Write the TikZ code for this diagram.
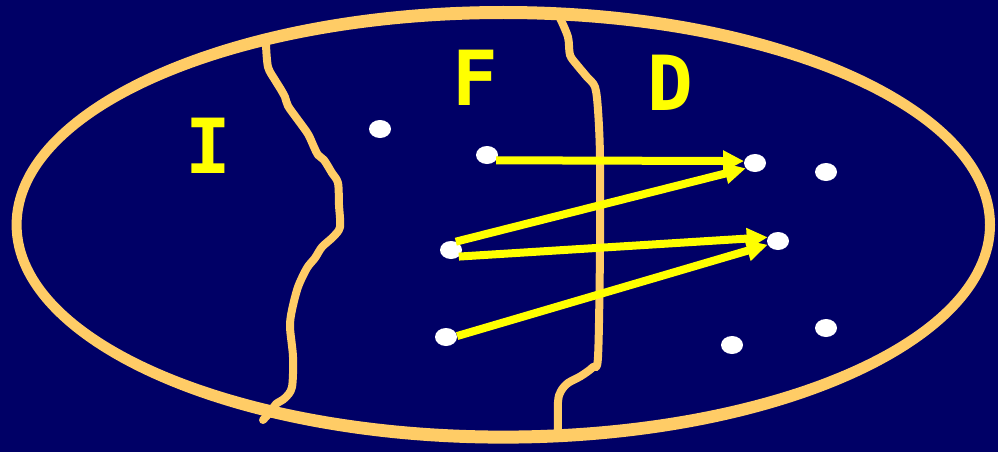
\documentclass[tikz,border=0pt]{standalone}
\usepackage{fontspec}
\newfontfamily\letterfont{DejaVu Sans Mono}
\usetikzlibrary{arrows.meta,shapes.geometric}
\definecolor{navy}{RGB}{0,0,102}
\definecolor{peach}{RGB}{255,204,102}
\definecolor{yel}{RGB}{255,255,0}
\tikzset{
  border/.style={fill=peach,even odd rule},
  wall/.style={draw=peach,line width=8pt,line cap=round,line join=round},
  dot/.style={ellipse,fill=white,minimum width=22pt,minimum height=18pt,inner sep=0pt},
  letter/.style={text=yel,font=\letterfont\bfseries\fontsize{76}{76}\selectfont,inner sep=0pt},
  arr/.style={draw=yel,line width=8pt,-{Triangle[length=21pt,width=20pt]}}
}
\begin{document}
\begin{tikzpicture}[x=1pt,y=-1pt]
\useasboundingbox (0,0) rectangle (998,452);
\fill[navy] (0,0) rectangle (998,452);
\path[border] (503.3,224.8) ellipse [x radius=491.7, y radius=218.8]
              (503.3,224.8) ellipse [x radius=481.7, y radius=205.8];
% left boundary
\draw[wall] plot[smooth,tension=0.5] coordinates {
 (266,45) (268,67) (275,80) (280,88) (285,97) (288,106) (298,120) (308,134)
 (314,147) (318,155) (324,160) (332,173) (338,183) (339,205) (340,227)
 (333,237) (322,247) (315,258) (307,268) (298,287) (292,310) (290,327)
 (293,357) (292,387) (285,398) (276,404) (271,411) (263,420)};
% right boundary
\draw[wall] plot[smooth,tension=0.5] coordinates {
 (560,18) (568,37) (570,55) (577,65) (582,71) (587,77) (595,87) (598,110)
 (600,157) (600,250) (598,357) (593,367) (581,376) (568,383) (561,391)
 (558,402) (558,437)};
% letters
\node[letter] (I) at (208,146) {I};
\node[letter] (F) at (475,78) {F};
\node[letter] (D) at (670,83) {D};
% dots
\node[dot] (d1) at (380,129) {};
\node[dot] (d2) at (487,155) {};
\node[dot] (d3) at (755,163) {};
\node[dot] (d4) at (826,172) {};
\node[dot] (d5) at (451,250) {};
\node[dot] (d6) at (778,241) {};
\node[dot] (d7) at (446,337) {};
\node[dot] (d8) at (732,345) {};
\node[dot] (d9) at (826,328) {};
% arrows
\draw[arr] (d2.-30) -- (d3.170);
\draw[arr] (d5.60) -- (d3.210);
\draw[arr] (d5.-40) -- (d6.160);
\draw[arr] (d7.5) -- (d6.200);
\end{tikzpicture}
\end{document}
